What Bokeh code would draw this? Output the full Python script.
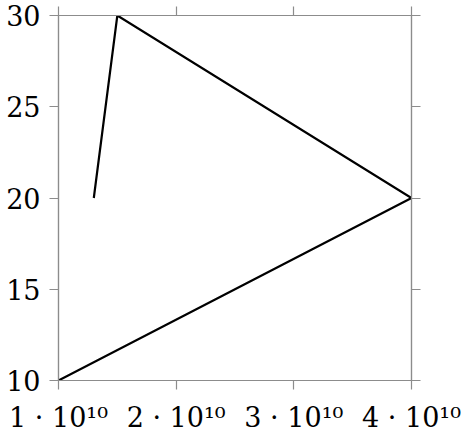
from bokeh.plotting import figure
from bokeh.models import Range1d, LinearAxis, FixedTicker
from bokeh.embed import file_html
from bokeh.resources import INLINE

xs = [1.3e10, 1.5e10, 4e10, 1e10]
ys = [20, 30, 20, 10]
x_ticks = [1e10, 2e10, 3e10, 4e10]
x_labels = ["1 · 10¹⁰", "2 · 10¹⁰", "3 · 10¹⁰", "4 · 10¹⁰"]
y_ticks = [10, 15, 20, 25, 30]
y_labels = ["10", "15", "20", "25", "30"]

FONT = "DejaVu Serif"
GRAY = "#8c8c8c"

p = figure(frame_width=353, frame_height=365, output_backend="svg", toolbar_location=None,
           x_range=Range1d(1e10, 4e10), y_range=Range1d(10, 30),
           x_axis_location=None, y_axis_location=None,
           min_border_left=58, min_border_right=50, min_border_top=15, min_border_bottom=50)
p.grid.visible = False
p.outline_line_color = GRAY
p.outline_line_width = 1.2
p.background_fill_color = "white"
p.border_fill_color = "white"

def make_axis(ticks, labels, show_labels, standoff=9):
    ax = LinearAxis(ticker=FixedTicker(ticks=ticks))
    ax.major_label_overrides = {t: l for t, l in zip(ticks, labels)}
    ax.axis_line_color = GRAY
    ax.axis_line_width = 1.2
    ax.major_tick_line_color = GRAY
    ax.major_tick_line_width = 1.2
    ax.major_tick_out = 9
    ax.major_tick_in = 0
    ax.minor_tick_line_color = None
    ax.major_label_text_font = FONT
    ax.major_label_text_font_size = "27px"
    ax.major_label_text_color = "black"
    ax.major_label_standoff = standoff
    if not show_labels:
        ax.major_label_text_alpha = 0
        ax.major_label_text_font_size = "1px"
        ax.major_label_standoff = 0
    return ax

p.add_layout(make_axis(x_ticks, x_labels, True, standoff=12), "below")
p.add_layout(make_axis(y_ticks, y_labels, True, standoff=9), "left")
p.add_layout(make_axis(x_ticks, [""] * 4, False), "above")
p.add_layout(make_axis(y_ticks, [""] * 5, False), "right")

p.line(xs, ys, line_color="black", line_width=2.2)

open("out.html", "w").write(file_html(p, INLINE))
